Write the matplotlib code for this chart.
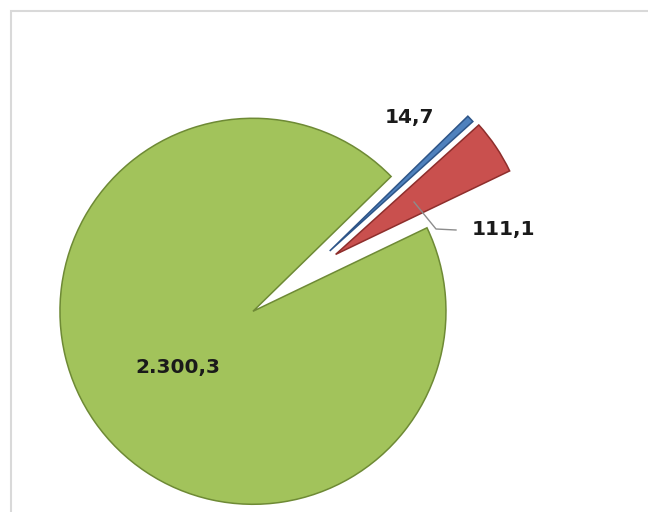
import numpy as np
import matplotlib
matplotlib.use("Agg")
import matplotlib.pyplot as plt
from matplotlib.patches import Rectangle

# values (thousands format with comma decimals)
labels = ["2.300,3", "111,1", "14,7"]
values = [2300.3, 111.1, 14.7]
colors = ["#A2C35B", "#C9504E", "#4F81BD"]
edges = ["#6E8A35", "#8E2E2C", "#2E5588"]
explode = [0.31, 0.21, 0.197]

W, H = 648, 512
R = 193.0            # pie radius in px
cx, cy = 302, 277    # pie centre in px (image coords)

def px(x, y):
    # pixel (image) coords -> data coords
    return (x - cx) / R, (cy - y) / R

fig = plt.figure(figsize=(W / 100, H / 100), dpi=100)
fig.patch.set_facecolor("white")
fig.patches.append(Rectangle((11 / W, -0.1), 1.2, 1 - 11 / H + 0.1,
                             transform=fig.transFigure, fill=False,
                             edgecolor="#D9D9D9", lw=1.5))

ax = fig.add_axes([0, 0, 1, 1])
wedges, _ = ax.pie(values, colors=colors, explode=explode, startangle=44.3,
                   counterclock=True, radius=1.0,
                   wedgeprops=dict(linewidth=1.1))
for w, ec in zip(wedges, edges):
    w.set_edgecolor(ec)
    w.set_joinstyle("miter")

ax.set_xlim(-cx / R, (W - cx) / R)
ax.set_ylim(-(H - cy) / R, cy / R)
ax.set_aspect("equal")
ax.axis("off")

font = dict(family=["DejaVu Sans"], fontweight="bold",
            fontsize=14.5, color="#1A1A1A")
ax.text(*px(178, 367), labels[0], ha="center", va="center", **font)
ax.text(*px(503, 229), labels[1], ha="center", va="center", **font)
ax.text(*px(409, 118), labels[2], ha="center", va="center", **font)

# leader line for the red slice label
lx, ly = zip(px(414, 202), px(436, 229), px(456, 230))
ax.plot(lx, ly, color="#8C8C8C", lw=1.0)

fig.savefig("out.png", dpi=100, facecolor="white")
